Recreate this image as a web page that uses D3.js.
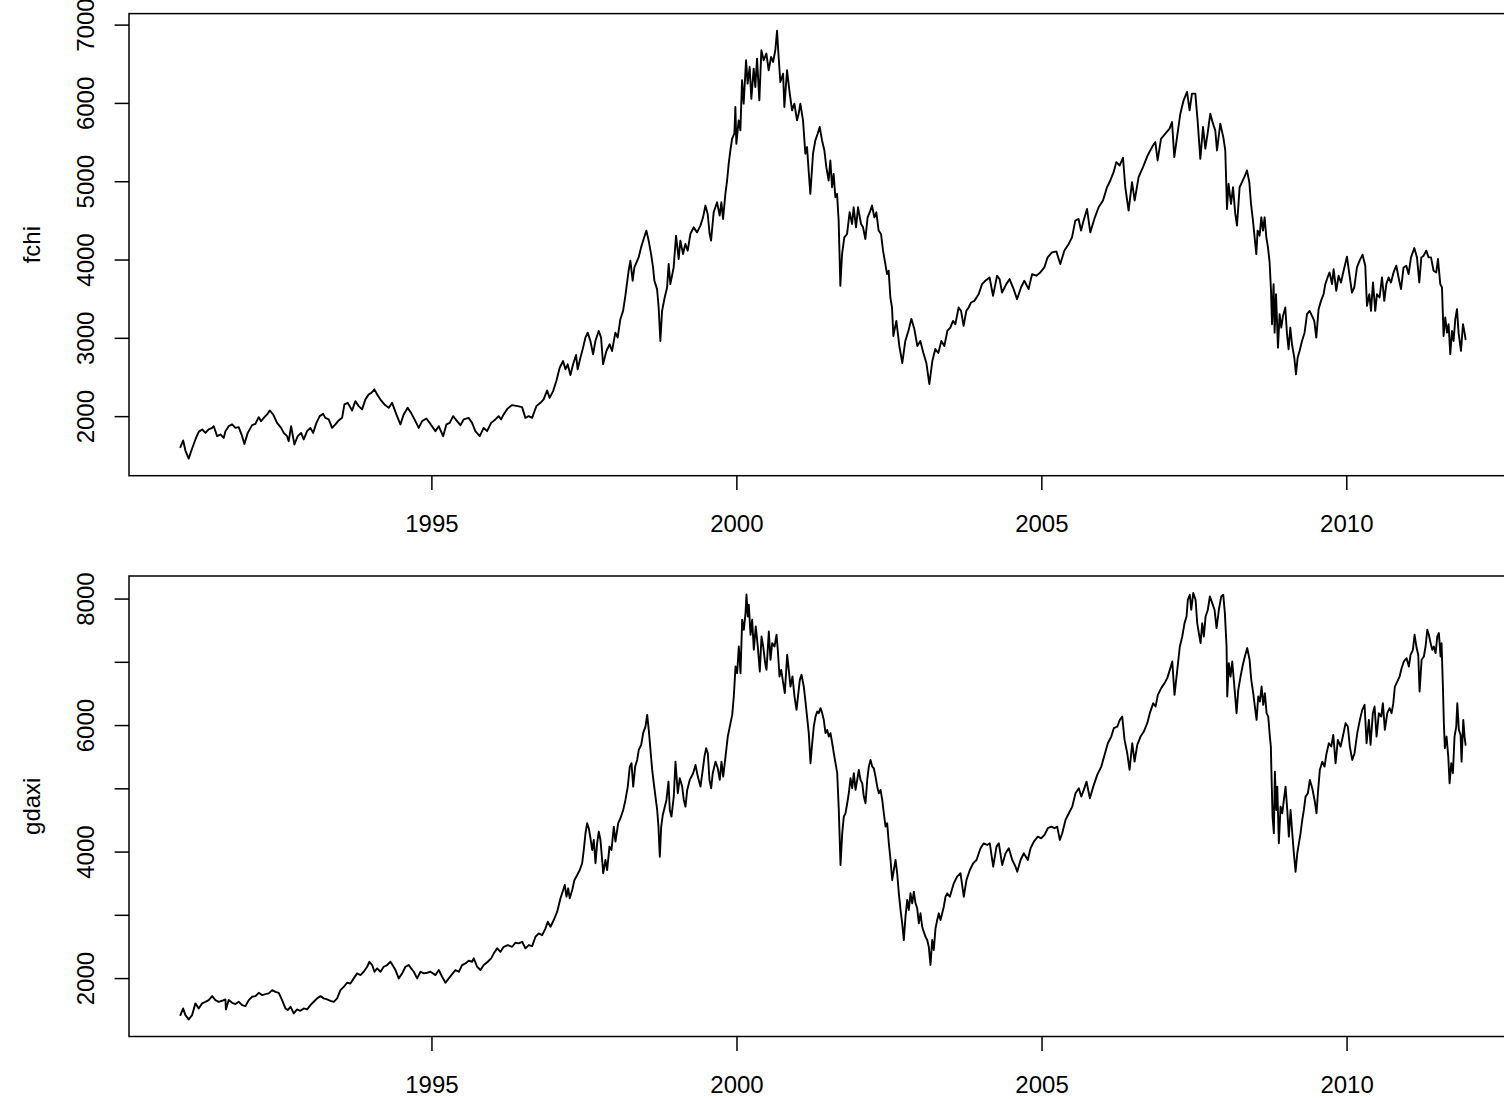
<!DOCTYPE html>
<html>
<head>
<meta charset="utf-8">
<script src="https://cdn.jsdelivr.net/npm/d3@7"></script>
<style>
  html, body { margin: 0; padding: 0; background: #ffffff; overflow: hidden; }
  svg { display: block; }
</style>
</head>
<body>
<svg id="chart" width="1504" height="1099"></svg>
<script>
// CAC 40 (fchi): [decimal year, index level]
const fchi = [
[1990.885,1603],[1990.930,1689],[1990.967,1561],[1991.021,1458],[1991.061,1552],[1991.131,1702],[1991.185,1799],[1991.241,1830],[1991.295,1786],[1991.349,1830],
[1991.405,1850],[1991.431,1872],[1991.487,1744],[1991.541,1766],[1991.595,1722],[1991.623,1808],[1991.677,1872],[1991.733,1894],[1991.787,1850],[1991.841,1859],
[1991.897,1744],[1991.934,1645],[1991.989,1786],[1992.061,1885],[1992.115,1901],[1992.169,1987],[1992.208,1936],[1992.262,1987],[1992.307,2022],[1992.349,2073],
[1992.405,2022],[1992.470,1914],[1992.536,1850],[1992.579,1786],[1992.634,1744],[1992.661,1680],[1992.700,1872],[1992.754,1638],[1992.808,1744],[1992.864,1786],
[1992.907,1702],[1992.962,1808],[1993.016,1850],[1993.061,1786],[1993.115,1914],[1993.169,2000],[1993.225,2029],[1993.262,1978],[1993.316,1958],[1993.372,1850],
[1993.426,1894],[1993.480,1945],[1993.536,1978],[1993.574,2150],[1993.628,2170],[1993.700,2073],[1993.754,2192],[1993.808,2128],[1993.864,2086],[1993.918,2214],
[1993.972,2278],[1994.016,2298],[1994.066,2342],[1994.110,2278],[1994.175,2201],[1994.230,2150],[1994.300,2106],[1994.356,2170],[1994.426,2022],[1994.492,1894],
[1994.546,2022],[1994.611,2106],[1994.667,2042],[1994.738,1936],[1994.792,1850],[1994.848,1936],[1994.918,1970],[1994.972,1914],
[1995.066,1808],[1995.120,1872],[1995.192,1744],[1995.246,1894],[1995.300,1914],[1995.356,2000],[1995.421,1936],[1995.475,1885],[1995.530,1958],[1995.611,1978],
[1995.667,1914],[1995.721,1808],[1995.792,1744],[1995.857,1850],[1995.913,1808],[1995.979,1914],[1996.049,1958],[1996.103,2000],[1996.143,1958],[1996.185,2022],
[1996.251,2099],[1996.323,2141],[1996.415,2128],[1996.487,2115],[1996.541,1978],[1996.595,2000],[1996.651,1978],[1996.721,2128],[1996.787,2170],[1996.841,2214],
[1996.897,2329],[1996.939,2234],[1996.995,2320],[1997.049,2448],[1997.103,2618],[1997.159,2704],[1997.197,2598],[1997.234,2662],[1997.279,2525],[1997.323,2662],
[1997.372,2781],[1997.398,2598],[1997.443,2746],[1997.487,2875],[1997.525,3003],[1997.562,3066],[1997.607,2960],[1997.651,2790],[1997.689,2960],[1997.743,3088],
[1997.782,3003],[1997.815,2662],[1997.869,2832],[1997.923,2918],[1997.962,2832],[1998.016,3066],[1998.054,3003],[1998.098,3238],[1998.143,3344],[1998.180,3536],
[1998.234,3857],[1998.262,3985],[1998.300,3729],[1998.328,3899],[1998.398,4027],[1998.438,4155],[1998.480,4262],[1998.525,4369],[1998.562,4241],[1998.602,4070],
[1998.634,3899],[1998.656,3729],[1998.700,3622],[1998.726,3387],[1998.754,2960],[1998.782,3344],[1998.825,3515],[1998.864,3643],[1998.890,3942],[1998.918,3686],
[1998.972,3899],[1999.011,4305],[1999.054,4006],[1999.082,4241],[1999.126,4070],[1999.164,4198],[1999.202,4113],[1999.246,4326],
[1999.300,4411],[1999.356,4347],[1999.410,4433],[1999.454,4539],[1999.492,4689],[1999.530,4581],[1999.562,4326],[1999.585,4241],[1999.628,4603],[1999.684,4731],
[1999.726,4561],[1999.754,4731],[1999.782,4518],[1999.820,4839],[1999.848,5009],[1999.874,5222],[1999.902,5393],[1999.930,5542],[1999.967,5607],[1999.984,5948],
[2000.000,5479],[2000.038,5777],[2000.066,5649],[2000.093,6289],[2000.120,5991],[2000.159,6545],[2000.185,6246],[2000.218,6459],[2000.246,6053],[2000.284,6437],
[2000.311,6203],[2000.339,6565],[2000.377,6033],[2000.410,6673],[2000.448,6545],[2000.492,6630],[2000.530,6417],[2000.569,6587],[2000.602,6523],[2000.639,6673],
[2000.667,6922],[2000.693,6587],[2000.721,6267],[2000.766,6373],[2000.787,5948],[2000.831,6417],[2000.869,6161],[2000.913,5905],[2000.951,5991],[2000.995,5777],
[2001.021,5862],[2001.049,5991],[2001.093,5777],[2001.131,5351],[2001.159,5436],[2001.185,5137],[2001.213,4839],[2001.257,5351],[2001.295,5521],[2001.333,5607],
[2001.366,5692],[2001.405,5521],[2001.443,5393],[2001.475,5179],[2001.513,5009],[2001.541,5265],[2001.569,4923],[2001.595,5094],[2001.623,4795],[2001.651,4839],
[2001.677,4497],[2001.705,3665],[2001.733,4070],[2001.770,4283],[2001.815,4326],[2001.857,4603],[2001.897,4454],[2001.923,4667],[2001.962,4411],[2001.995,4667],
[2002.044,4454],[2002.077,4411],[2002.115,4262],[2002.152,4539],[2002.197,4625],[2002.225,4689],[2002.262,4539],[2002.295,4603],[2002.333,4369],[2002.372,4326],
[2002.405,4113],[2002.443,3942],[2002.470,3814],[2002.497,3857],[2002.525,3515],[2002.552,3387],[2002.574,3024],[2002.623,3216],[2002.672,2896],[2002.721,2679],
[2002.770,2960],[2002.820,3088],[2002.869,3242],[2002.918,3114],[2002.967,2896],[2003.016,2960],[2003.066,2807],[2003.115,2679],[2003.164,2410],[2003.213,2704],
[2003.262,2858],[2003.311,2807],[2003.361,2960],[2003.410,2896],[2003.459,3088],
[2003.508,3131],[2003.552,3216],[2003.590,3174],[2003.644,3387],[2003.684,3344],[2003.726,3152],[2003.770,3344],[2003.808,3387],[2003.848,3451],[2003.902,3472],
[2003.972,3557],[2004.028,3686],[2004.082,3729],[2004.152,3771],[2004.208,3536],[2004.274,3793],[2004.316,3750],[2004.356,3579],[2004.426,3686],[2004.480,3750],
[2004.546,3622],[2004.602,3494],[2004.667,3643],[2004.721,3729],[2004.792,3622],[2004.848,3814],[2004.918,3793],[2004.984,3835],[2005.049,3899],[2005.103,4027],
[2005.175,4091],[2005.246,4104],[2005.311,3942],[2005.377,4113],[2005.448,4198],[2005.503,4283],[2005.557,4497],[2005.611,4518],[2005.651,4369],[2005.693,4497],
[2005.749,4646],[2005.803,4347],[2005.869,4518],[2005.939,4667],[2006.011,4753],[2006.077,4923],[2006.131,5009],[2006.185,5115],[2006.230,5244],[2006.284,5201],
[2006.339,5299],[2006.377,4923],[2006.431,4625],[2006.487,4988],[2006.530,4753],[2006.595,5052],[2006.667,5179],[2006.743,5329],[2006.815,5436],[2006.869,5500],
[2006.907,5265],[2006.962,5542],[2007.033,5607],[2007.103,5671],[2007.143,5756],[2007.180,5308],[2007.225,5564],[2007.279,5862],[2007.333,6033],[2007.389,6140],
[2007.431,5905],[2007.470,6118],[2007.525,6118],[2007.562,5777],[2007.607,5286],[2007.651,5692],[2007.689,5415],[2007.726,5607],[2007.770,5862],[2007.815,5735],
[2007.852,5649],[2007.880,5393],[2007.934,5735],[2007.984,5560],[2008.016,5393],[2008.044,4646],[2008.070,4967],[2008.110,4710],[2008.143,4923],[2008.180,4582],
[2008.208,4433],[2008.251,4923],[2008.290,4988],[2008.328,5052],[2008.372,5137],[2008.410,4988],[2008.438,4710],[2008.470,4497],[2008.497,4283],[2008.525,4070],
[2008.546,4369],[2008.579,4305],[2008.607,4539],[2008.634,4369],[2008.661,4539],[2008.689,4283],[2008.716,4155],[2008.743,3963],[2008.766,3600],[2008.782,3174],
[2008.808,3686],[2008.825,3066],[2008.848,3557],[2008.880,2875],[2008.907,3302],[2008.934,3131],[2008.962,3280],[2009.000,3387],[2009.028,3046],[2009.054,2854],
[2009.082,3131],[2009.110,2918],[2009.148,2746],[2009.175,2534],[2009.202,2746],[2009.234,2832],[2009.274,2960],[2009.316,3066],[2009.356,3302],[2009.398,3344],
[2009.438,3280],[2009.475,3216],[2009.508,3003],[2009.546,3366],[2009.585,3472],[2009.628,3557],[2009.656,3686],[2009.693,3771],[2009.726,3835],[2009.766,3686],
[2009.792,3878],[2009.836,3600],[2009.874,3793],[2009.913,3707],[2009.956,3857],[2010.011,4036],[2010.054,3793],[2010.093,3579],[2010.131,3643],[2010.175,3899],
[2010.218,3985],[2010.267,4062],[2010.311,3921],[2010.339,3408],[2010.377,3557],[2010.405,3344],[2010.438,3707],[2010.475,3344],[2010.503,3557],[2010.546,3515],
[2010.585,3771],[2010.623,3472],[2010.656,3686],[2010.693,3771],[2010.733,3707],[2010.775,3835],[2010.820,3921],[2010.857,3771],[2010.897,3622],[2010.939,3899],
[2010.984,3921],[2011.021,3814],[2011.061,4027],[2011.115,4146],[2011.159,4027],[2011.197,3707],[2011.230,4027],[2011.267,4049],[2011.311,4113],[2011.349,4027],
[2011.389,4027],[2011.431,3857],[2011.475,3835],[2011.503,4006],[2011.541,3686],[2011.569,3643],[2011.595,3024],[2011.623,3259],[2011.651,3066],[2011.677,3174],
[2011.705,2790],[2011.733,3088],[2011.759,2960],[2011.787,3238],[2011.815,3366],[2011.841,3066],[2011.880,2832],[2011.913,3174],[2011.939,3066],[2011.956,2982]
];

// DAX (gdaxi): [decimal year, index level]
const gdaxi = [
[1990.885,1415],[1990.930,1520],[1990.967,1415],[1991.021,1346],[1991.077,1415],[1991.131,1600],[1991.185,1520],[1991.241,1600],[1991.295,1625],[1991.349,1652],
[1991.405,1715],[1991.459,1652],[1991.513,1625],[1991.569,1641],[1991.623,1663],[1991.631,1505],[1991.677,1652],[1991.733,1609],[1991.787,1589],[1991.841,1625],
[1991.897,1573],[1991.951,1557],[1992.005,1652],[1992.061,1704],[1992.115,1715],[1992.169,1767],[1992.225,1731],[1992.279,1747],[1992.333,1758],[1992.389,1810],
[1992.443,1783],[1992.497,1767],[1992.552,1652],[1992.607,1520],[1992.644,1494],[1992.689,1546],[1992.743,1441],[1992.798,1505],[1992.852,1483],[1992.907,1520],
[1992.962,1505],[1993.016,1573],[1993.070,1625],[1993.126,1679],[1993.180,1715],[1993.234,1679],[1993.290,1663],[1993.344,1641],[1993.398,1625],[1993.454,1679],
[1993.508,1810],[1993.562,1862],[1993.618,1926],[1993.672,1915],[1993.726,1995],[1993.782,2074],[1993.836,2047],[1993.890,2100],[1993.946,2179],[1993.984,2258],
[1994.028,2206],[1994.066,2100],[1994.110,2153],[1994.164,2100],[1994.218,2179],[1994.274,2206],[1994.328,2258],[1994.372,2190],[1994.410,2127],[1994.464,1995],
[1994.520,2074],[1994.574,2179],[1994.628,2206],[1994.667,2153],[1994.710,2100],[1994.766,1995],[1994.820,2100],[1994.874,2074],[1994.930,2084],[1994.984,2100],
[1995.066,2047],[1995.120,2127],[1995.175,2021],[1995.230,1926],[1995.284,1995],[1995.339,2063],[1995.393,2127],[1995.448,2100],[1995.503,2206],[1995.557,2232],
[1995.611,2274],[1995.667,2258],[1995.693,2312],[1995.749,2179],[1995.803,2127],[1995.857,2206],[1995.923,2258],[1995.979,2312],[1996.021,2391],[1996.077,2470],
[1996.131,2416],[1996.185,2495],[1996.251,2522],[1996.323,2495],[1996.377,2559],[1996.431,2549],[1996.487,2574],[1996.541,2470],[1996.595,2522],[1996.651,2506],
[1996.705,2653],[1996.759,2707],[1996.815,2680],[1996.869,2786],[1996.907,2891],[1996.951,2812],[1997.005,2918],[1997.061,3049],[1997.115,3261],[1997.159,3392],
[1997.185,3472],[1997.213,3286],[1997.241,3419],[1997.267,3261],[1997.307,3392],[1997.344,3551],[1997.389,3630],[1997.431,3709],[1997.470,3815],[1997.497,4025],
[1997.525,4290],[1997.552,4448],[1997.579,4369],[1997.607,4210],[1997.634,4025],[1997.661,4184],[1997.689,3815],[1997.716,4131],[1997.743,4315],[1997.770,4184],
[1997.798,3867],[1997.815,3657],[1997.852,3867],[1997.880,3709],[1997.918,4078],[1997.951,4025],[1997.989,4394],[1998.016,4157],[1998.061,4448],[1998.098,4527],
[1998.143,4658],[1998.180,4816],[1998.218,5027],[1998.251,5343],[1998.279,5397],[1998.307,5027],[1998.339,5343],[1998.372,5449],[1998.398,5608],[1998.438,5687],
[1998.470,5872],[1998.508,5976],[1998.536,6161],[1998.562,5924],[1998.590,5608],[1998.618,5291],[1998.644,5081],[1998.672,4869],[1998.700,4658],[1998.721,4394],
[1998.743,3919],[1998.766,4394],[1998.792,4579],[1998.825,4710],[1998.852,4816],[1998.885,5106],[1998.907,4658],[1998.934,4552],[1998.972,4869],[1999.000,5422],
[1999.038,4922],[1999.070,5160],[1999.110,5027],[1999.136,4816],[1999.164,4710],[1999.192,4975],[1999.234,5133],[1999.290,5239],[1999.328,5370],[1999.366,5185],
[1999.410,5027],[1999.454,5343],[1999.475,5502],[1999.503,5634],[1999.530,5555],[1999.557,5133],[1999.585,5001],[1999.611,5239],[1999.656,5422],[1999.693,5317],
[1999.726,5133],[1999.754,5422],[1999.782,5185],[1999.820,5502],[1999.857,5818],[1999.890,5976],[1999.930,6161],[1999.956,6451],[1999.984,6926],[2000.011,6820],
[2000.038,7242],[2000.066,6820],[2000.093,7665],[2000.120,7506],[2000.148,7770],[2000.164,8065],[2000.185,7717],[2000.202,7902],[2000.230,7427],[2000.257,7665],
[2000.284,7190],[2000.316,7559],[2000.349,7242],[2000.382,6847],[2000.410,7400],[2000.438,7242],[2000.470,6979],[2000.492,6873],[2000.530,7479],[2000.557,7032],
[2000.585,7296],[2000.623,7242],[2000.656,7427],[2000.677,7190],[2000.705,6767],[2000.733,6873],[2000.766,6663],[2000.792,6505],[2000.831,7111],[2000.857,6873],
[2000.885,6609],[2000.918,6767],[2000.951,6451],[2000.984,6240],[2001.005,6425],[2001.038,6715],[2001.066,6794],[2001.103,6609],[2001.131,6372],[2001.159,6109],
[2001.185,5872],[2001.213,5397],[2001.241,5713],[2001.267,5976],[2001.295,6134],[2001.323,6214],[2001.349,6188],[2001.377,6267],[2001.405,6188],[2001.431,6082],
[2001.459,5872],[2001.487,5924],[2001.513,5818],[2001.541,5872],[2001.569,5713],[2001.595,5555],[2001.623,5397],[2001.651,5239],[2001.677,4658],[2001.705,3788],
[2001.733,4290],[2001.759,4552],[2001.787,4606],[2001.815,4764],[2001.841,4922],[2001.869,5160],[2001.897,5001],[2001.923,5239],[2001.951,4975],[2001.979,5133],
[2002.005,5291],[2002.033,5133],[2002.061,5081],[2002.087,4869],[2002.115,4764],[2002.143,5133],[2002.169,5343],[2002.197,5449],[2002.225,5343],[2002.251,5317],
[2002.279,5185],[2002.307,5027],[2002.333,4922],[2002.361,4975],[2002.389,4816],[2002.415,4606],[2002.443,4394],[2002.470,4448],[2002.497,4131],[2002.525,3867],
[2002.552,3551],[2002.579,3709],[2002.607,3867],[2002.634,3657],[2002.661,3340],[2002.689,3076],[2002.716,2865],[2002.743,2601],[2002.770,2970],[2002.798,3234],
[2002.825,3076],[2002.852,3340],[2002.880,3182],[2002.907,3366],[2002.934,3182],[2002.962,3103],[2002.989,2865],[2003.016,3024],[2003.044,2812],[2003.070,2733],
[2003.098,2653],[2003.126,2601],[2003.152,2495],[2003.180,2206],[2003.208,2601],[2003.234,2443],[2003.262,2786],[2003.290,2918],[2003.316,3024],[2003.344,2918],
[2003.372,3024],[2003.398,3128],[2003.426,3286],[2003.454,3340],[2003.497,3286],[2003.562,3498],[2003.616,3603],[2003.672,3657],[2003.726,3286],[2003.770,3551],
[2003.825,3709],[2003.880,3815],[2003.934,3867],[2004.000,4052],[2004.054,4131],[2004.110,4104],[2004.152,4131],[2004.208,3761],[2004.262,4078],[2004.300,4131],
[2004.356,3788],[2004.410,3973],[2004.464,4052],[2004.520,3867],[2004.574,3761],[2004.602,3682],[2004.656,3867],[2004.710,3973],[2004.775,3867],[2004.820,4052],
[2004.874,4157],[2004.939,4236],[2004.995,4210],[2005.049,4263],[2005.103,4369],[2005.159,4394],[2005.213,4369],[2005.257,4394],[2005.300,4184],[2005.339,4290],
[2005.393,4500],[2005.448,4606],[2005.503,4710],[2005.557,4922],[2005.611,5001],[2005.651,4869],[2005.693,4975],[2005.738,5106],[2005.792,4843],[2005.848,5027],
[2005.913,5212],[2005.979,5343],[2006.033,5528],[2006.087,5713],[2006.143,5818],[2006.185,5951],[2006.241,5976],[2006.284,6082],[2006.323,6134],[2006.361,5766],
[2006.405,5555],[2006.443,5291],[2006.487,5713],[2006.525,5422],[2006.569,5687],[2006.623,5818],[2006.677,5897],[2006.733,6030],[2006.775,6188],[2006.831,6346],
[2006.869,6293],[2006.907,6478],[2006.962,6584],[2007.016,6663],[2007.061,6742],[2007.103,6873],[2007.143,7005],[2007.180,6478],[2007.225,6873],[2007.267,7242],
[2007.307,7400],[2007.344,7612],[2007.377,7717],[2007.398,7981],[2007.431,8060],[2007.454,7823],[2007.487,8087],[2007.525,7981],[2007.552,7612],[2007.579,7454],
[2007.607,7296],[2007.634,7612],[2007.661,7400],[2007.689,7717],[2007.726,7823],[2007.759,8034],[2007.798,7928],[2007.836,7823],[2007.869,7533],[2007.907,7823],
[2007.946,8034],[2007.979,8060],[2008.005,7770],[2008.033,7242],[2008.044,6451],[2008.070,6979],[2008.098,6767],[2008.126,7005],[2008.152,6715],[2008.197,6188],
[2008.225,6557],[2008.262,6767],[2008.300,6953],[2008.333,7084],[2008.372,7217],[2008.410,7032],[2008.438,6715],[2008.470,6505],[2008.497,6293],[2008.525,6082],
[2008.552,6451],[2008.579,6372],[2008.607,6609],[2008.634,6320],[2008.661,6505],[2008.689,6188],[2008.716,6134],[2008.743,5818],[2008.759,5660],[2008.770,5185],
[2008.787,4552],[2008.808,4290],[2008.825,5264],[2008.848,4658],[2008.864,5027],[2008.890,4131],[2008.918,4710],[2008.946,4606],[2008.972,4816],[2009.000,5027],
[2009.028,4658],[2009.054,4236],[2009.082,4658],[2009.110,4290],[2009.136,3973],[2009.164,3682],[2009.192,3973],[2009.218,4131],[2009.246,4290],[2009.274,4500],
[2009.300,4658],[2009.328,4869],[2009.366,4922],[2009.398,5133],[2009.438,5001],[2009.475,4816],[2009.508,4606],[2009.530,4922],[2009.562,5291],[2009.602,5422],
[2009.639,5343],[2009.672,5555],[2009.710,5713],[2009.749,5660],[2009.782,5844],[2009.820,5397],[2009.857,5766],[2009.902,5660],[2009.939,5818],[2009.984,6030],
[2010.021,5976],[2010.054,5660],[2010.093,5449],[2010.131,5555],[2010.175,5872],[2010.218,6082],[2010.257,6240],[2010.295,6320],[2010.328,5713],[2010.366,6082],
[2010.393,5687],[2010.431,6188],[2010.459,6293],[2010.492,5818],[2010.530,6188],[2010.569,6134],[2010.595,6346],[2010.628,5924],[2010.667,6188],[2010.705,6267],
[2010.738,6188],[2010.766,6346],[2010.792,6609],[2010.831,6688],[2010.869,6767],[2010.902,6899],[2010.939,7005],[2010.984,7058],[2011.021,6926],[2011.049,7111],
[2011.087,7190],[2011.115,7427],[2011.148,7217],[2011.175,7111],[2011.197,6530],[2011.230,7032],[2011.267,7084],[2011.295,7242],[2011.323,7506],[2011.349,7427],
[2011.377,7296],[2011.405,7190],[2011.431,7242],[2011.459,7137],[2011.487,7400],[2011.513,7454],[2011.541,7084],[2011.557,7296],[2011.579,6609],[2011.595,6030],
[2011.611,5634],[2011.639,5818],[2011.667,5502],[2011.689,5081],[2011.716,5397],[2011.743,5239],[2011.770,5818],[2011.798,5976],[2011.815,6346],[2011.841,5924],
[2011.869,5844],[2011.885,5422],[2011.913,6082],[2011.934,5818],[2011.951,5687]
];

// Axis ticks and labels
const yearTicks = [1995, 2000, 2005, 2010];
const yearTickLabels = ["1995", "2000", "2005", "2010"];
const fchiTicks = [2000, 3000, 4000, 5000, 6000, 7000];
const fchiTickLabels = ["2000", "3000", "4000", "5000", "6000", "7000"];
const gdaxiTicks = [2000, 3000, 4000, 5000, 6000, 7000, 8000];
const gdaxiTickLabels = ["2000", "", "4000", "", "6000", "", "8000"];

const WIDTH = 1504, HEIGHT = 1099;
const FONT = "'Liberation Sans', Arial, Helvetica, sans-serif";
const FONT_SIZE = 24;
const LINE = 28.8;           // height of one margin text line
const TICK = LINE * 0.5;     // outward tick length
const X_LABEL_BASELINE = 56; // distance from frame bottom to year label baseline

const svg = d3.select("#chart");
svg.append("rect").attr("width", WIDTH).attr("height", HEIGHT).attr("fill", "#ffffff");

// extend a range by 4% on both sides
function padRange(ext) {
  const d = (ext[1] - ext[0]) * 0.04;
  return [ext[0] - d, ext[1] + d];
}

function drawPanel(series, title, yTicks, yLabels, box) {
  const x = d3.scaleLinear()
    .domain(padRange(d3.extent(series, d => d[0])))
    .range([box.left, box.right]);
  const y = d3.scaleLinear()
    .domain(padRange(d3.extent(series, d => d[1])))
    .range([box.bottom, box.top]);

  const g = svg.append("g");

  // index line
  g.append("path")
    .datum(series)
    .attr("d", d3.line().x(d => x(d[0])).y(d => y(d[1])))
    .attr("fill", "none")
    .attr("stroke", "#000")
    .attr("stroke-width", 1.9)
    .attr("stroke-linejoin", "round")
    .attr("stroke-linecap", "round");

  // frame
  g.append("rect")
    .attr("x", box.left).attr("y", box.top)
    .attr("width", box.right - box.left).attr("height", box.bottom - box.top)
    .attr("fill", "none").attr("stroke", "#000").attr("stroke-width", 1.5);

  // bottom axis
  const xAxis = d3.axisBottom(x)
    .tickValues(yearTicks)
    .tickFormat((d, i) => yearTickLabels[i])
    .tickSize(TICK)
    .tickPadding(X_LABEL_BASELINE - TICK - 0.71 * FONT_SIZE);
  const gx = g.append("g").attr("transform", `translate(0,${box.bottom})`).call(xAxis);
  gx.select(".domain").remove();
  gx.selectAll(".tick line").attr("stroke", "#000").attr("stroke-width", 1.5);
  gx.selectAll(".tick text")
    .attr("fill", "#000")
    .style("font-family", FONT)
    .style("font-size", FONT_SIZE + "px");

  // left axis, labels parallel to the axis
  const yAxis = d3.axisLeft(y)
    .tickValues(yTicks)
    .tickFormat((d, i) => yLabels[i])
    .tickSize(TICK);
  const gy = g.append("g").attr("transform", `translate(${box.left},0)`).call(yAxis);
  gy.select(".domain").remove();
  gy.selectAll(".tick line").attr("stroke", "#000").attr("stroke-width", 1.5);
  gy.selectAll(".tick text")
    .attr("x", null).attr("dy", null)
    .attr("transform", `translate(${-LINE * 1.2},0) rotate(-90)`)
    .attr("text-anchor", "middle")
    .attr("fill", "#000")
    .style("font-family", FONT)
    .style("font-size", FONT_SIZE + "px");

  // series name
  svg.append("text")
    .attr("transform", `translate(${box.left - LINE * 3.1},${(box.top + box.bottom) / 2}) rotate(-90)`)
    .attr("text-anchor", "middle")
    .attr("fill", "#000")
    .style("font-family", FONT)
    .style("font-size", FONT_SIZE + "px")
    .text(title);
}

drawPanel(fchi, "fchi", fchiTicks, fchiTickLabels,
  { left: 129, right: 1517, top: 13.6, bottom: 475.7 });
drawPanel(gdaxi, "gdaxi", gdaxiTicks, gdaxiTickLabels,
  { left: 129, right: 1517, top: 576, bottom: 1036.5 });
</script>
</body>
</html>
